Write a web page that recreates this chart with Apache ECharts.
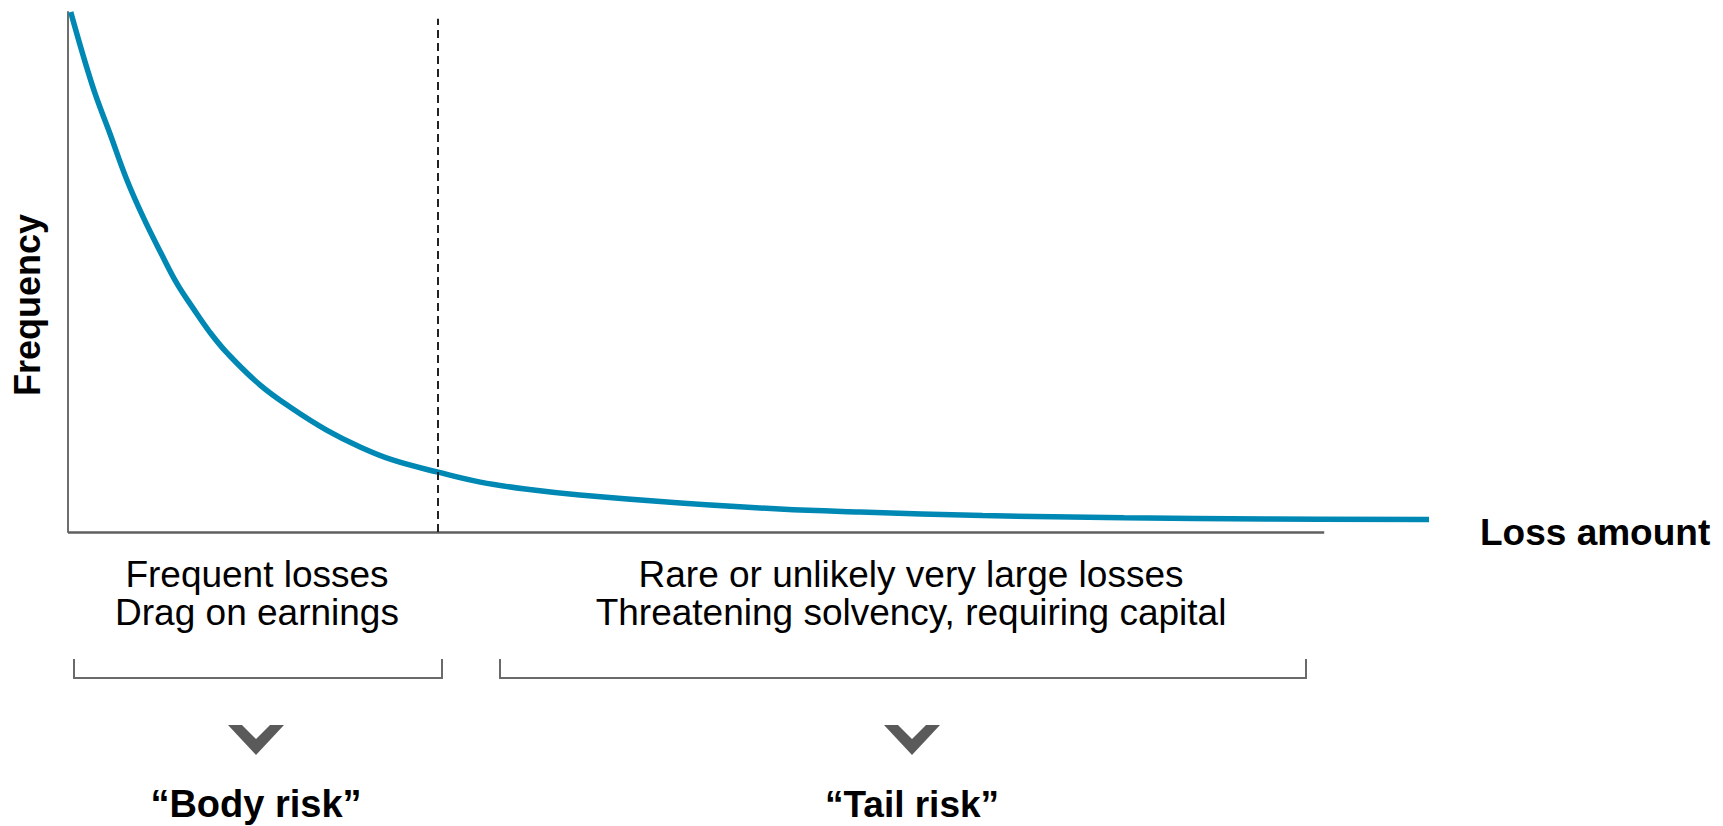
<!DOCTYPE html>
<html>
<head>
<meta charset="utf-8">
<script src="https://cdn.jsdelivr.net/npm/echarts@6/dist/echarts.min.js"></script>
<style>
  html, body { margin: 0; padding: 0; background: #ffffff; }
  #chart { width: 1723px; height: 826px; }
</style>
</head>
<body>
<div id="chart"></div>
<script>
// Loss distribution curve: loss amount (x) against frequency (y)
const lossAmount = [0.2, 1.8, 3.1, 4.3, 5.5, 6.8, 8.0, 9.2, 10.4, 11.7, 14.1, 16.5, 19.0, 21.5, 23.9, 27.2, 30.3, 33.9, 37.6, 45.0, 52.3, 58.2, 67.2, 77.6, 88.0, 100];
const frequency  = [100, 85.8, 76.5, 67.9, 60.7, 53.8, 47.8, 43.0, 38.5, 34.4, 28.3, 23.7, 19.6, 16.3, 13.8, 11.5, 9.6, 8.17, 7.12, 5.58, 4.42, 3.85, 3.17, 2.73, 2.5, 2.42];

// Where the body/tail split sits and how far the x axis line runs
const threshold = 27.2;
const thresholdTop = 98.7;
const axisEnd = 92.3;

// Text
const yAxisTitle = 'Frequency';
const xAxisTitle = 'Loss amount';
const bodyNotes = ['Frequent losses', 'Drag on earnings'];
const tailNotes = ['Rare or unlikely very large losses', 'Threatening solvency, requiring capital'];
const bodyLabel = '\u201cBody risk\u201d';
const tailLabel = '\u201cTail risk\u201d';

const FONT = '"Liberation Sans", Arial, Helvetica, sans-serif';
const chart = echarts.init(document.getElementById('chart'), null, { renderer: 'svg' });

function chevron(cx, top) {
  return {
    type: 'polygon',
    shape: { points: [[cx - 28, top], [cx - 14, top], [cx, top + 14], [cx + 14, top], [cx + 28, top], [cx, top + 30]] },
    style: { fill: '#5a5a5a' }
  };
}
function bracket(x1, x2, top, bottom) {
  return {
    type: 'polyline',
    shape: { points: [[x1, top], [x1, bottom], [x2, bottom], [x2, top]] },
    style: { stroke: '#6a6a6a', lineWidth: 2, fill: null }
  };
}
function note(text, x, y, size, weight, lh) {
  return {
    type: 'text', x: x, y: y,
    style: {
      text: text, align: 'center', verticalAlign: 'middle',
      fontFamily: FONT, fontSize: size, fontWeight: weight,
      lineHeight: lh || size, fill: '#000000'
    }
  };
}

chart.setOption({
  backgroundColor: '#ffffff',
  animation: false,
  grid: { left: 68, top: 12, right: 294, bottom: 294, containLabel: false, outerBoundsMode: 'none' },
  xAxis: {
    type: 'value', min: 0, max: 100,
    axisLine: { show: false }, axisTick: { show: false },
    axisLabel: { show: false }, splitLine: { show: false },
    name: xAxisTitle, nameLocation: 'end', nameGap: 51,
    nameTextStyle: { fontFamily: FONT, fontSize: 37, fontWeight: 'bold', color: '#000', align: 'left', verticalAlign: 'middle', padding: [0, 0, 10, 0] }
  },
  yAxis: {
    type: 'value', min: 0, max: 100,
    axisLine: { show: true, lineStyle: { color: '#6e6e6e', width: 2 } },
    axisTick: { show: false }, axisLabel: { show: false }, splitLine: { show: false },
    name: yAxisTitle, nameLocation: 'middle', nameGap: 23, nameRotate: 90,
    nameTextStyle: { fontFamily: FONT, fontSize: 36, fontWeight: 'bold', color: '#000', padding: [0, 66, 0, 0] }
  },
  series: [{
    type: 'line',
    data: lossAmount.map((x, i) => [x, frequency[i]]),
    smooth: 0.4,
    showSymbol: false,
    clip: false,
    lineStyle: { color: '#0088b4', width: 5.5 },
    markLine: {
      silent: true, symbol: 'none', label: { show: false },
      data: [
        [{ coord: [0, 0], lineStyle: { color: '#5f5f5f', width: 2.5, type: 'solid' } }, { coord: [axisEnd, 0] }],
        [{ coord: [threshold, 0], lineStyle: { color: '#222222', width: 2, type: [8, 5] } }, { coord: [threshold, thresholdTop] }]
      ]
    }
  }],
  graphic: [
    note(bodyNotes.join('\n'), 257, 593, 37, 'normal', 38),
    note(tailNotes.join('\n'), 911, 593, 37, 'normal', 38),
    bracket(74, 442, 659, 678),
    bracket(500, 1306, 659, 678),
    chevron(256, 725),
    chevron(912, 725),
    note(bodyLabel, 256, 804, 38, 'bold'),
    note(tailLabel, 912, 804, 37, 'bold')
  ]
});
</script>
</body>
</html>
